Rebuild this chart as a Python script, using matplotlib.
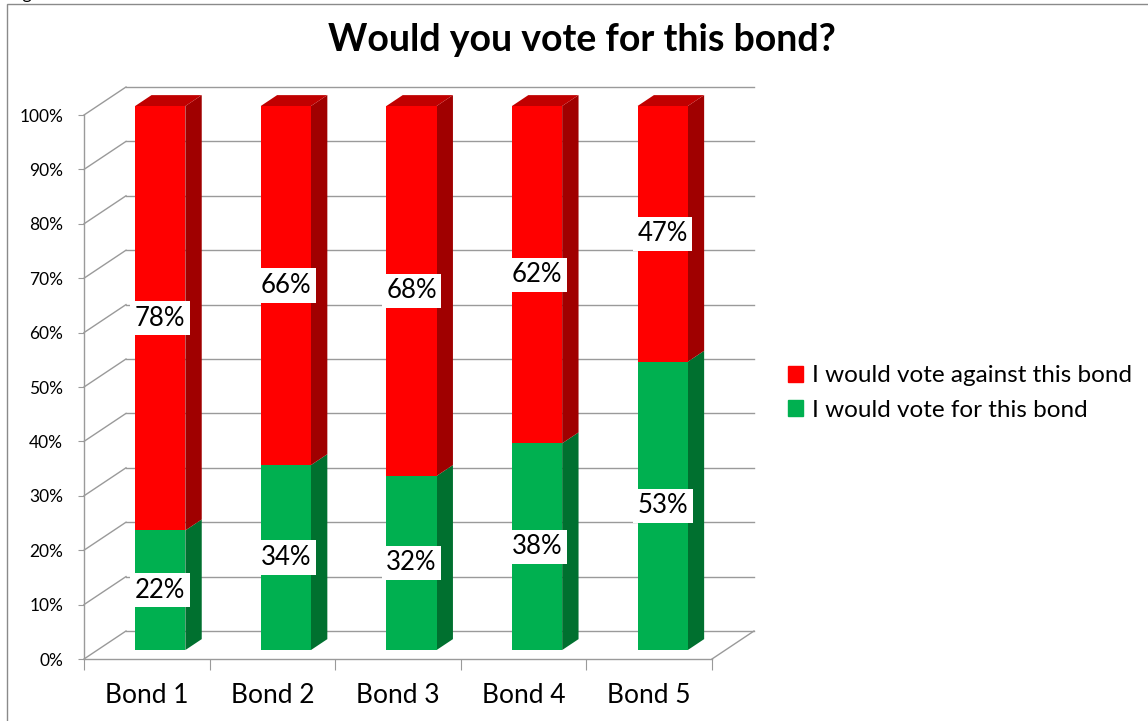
import matplotlib
matplotlib.use("Agg")
import matplotlib.pyplot as plt
from matplotlib.patches import Rectangle, Patch

plt.rcParams["font.family"] = ["Lato", "DejaVu Sans"]

# survey results per bond (percent of respondents)
bonds   = ["Bond 1", "Bond 2", "Bond 3", "Bond 4", "Bond 5"]
vote_for     = [22, 34, 32, 38, 53]
vote_against = [78, 66, 68, 62, 47]
yticks  = list(range(0, 101, 10))

GREEN, GREEN_SIDE = "#00B050", "#00702F"
RED, RED_SIDE, RED_TOP = "#FF0000", "#A00000", "#C00000"
GRID = "#9a9a9a"

W, H = 1148, 721
fig = plt.figure(figsize=(W / 100, H / 100), dpi=100)

# front plane of the pseudo-3D plot box, in pixels
left, right, y0px, y100px = 84, 712, 659, 115
ax = fig.add_axes([left / W, (H - y0px) / H, (right - left) / W, (y0px - y100px) / H])
ax.set_xlim(0, len(bonds))
ax.set_ylim(0, 100)

# depth offset of the back wall, in data units (category width / percent)
DX = 42 / ((right - left) / len(bonds))
DY = 28 / ((y0px - y100px) / 100)
Z0, Z1 = 0.32, 0.71          # bar front / back depth fraction
BW = 0.4                     # bar width in category units

# back wall gridlines and side wall diagonals
for v in yticks:
    ax.plot([DX, len(bonds) + DX], [v + DY, v + DY], color=GRID, lw=1.0,
            clip_on=False, zorder=1)
    ax.plot([0, DX], [v, v + DY], color=GRID, lw=1.0, clip_on=False, zorder=1)
# right edge of the floor
ax.plot([len(bonds), len(bonds) + DX], [0, DY], color=GRID, lw=1.0,
        clip_on=False, zorder=1)

xc = [i + 0.5 + Z0 * DX for i in range(len(bonds))]
bottom_off = Z0 * DY

# front faces
ax.bar(xc, vote_for, width=BW, bottom=bottom_off, color=GREEN, zorder=3,
       clip_on=False)
ax.bar(xc, vote_against, width=BW, bottom=[f + bottom_off for f in vote_for],
       color=RED, zorder=3, clip_on=False)

ddx, ddy = (Z1 - Z0) * DX, (Z1 - Z0) * DY
for i in range(len(bonds)):
    xr = xc[i] + BW / 2
    xl = xc[i] - BW / 2
    for lo, hi, col in [(0, vote_for[i], GREEN_SIDE),
                        (vote_for[i], vote_for[i] + vote_against[i], RED_SIDE)]:
        b, t = lo + bottom_off, hi + bottom_off
        ax.fill([xr, xr + ddx, xr + ddx, xr], [b, b + ddy, t + ddy, t],
                color=col, lw=0, zorder=2, clip_on=False)
    top = vote_for[i] + vote_against[i] + bottom_off
    ax.fill([xl, xr, xr + ddx, xl + ddx], [top, top, top + ddy, top + ddy],
            color=RED_TOP, lw=0, zorder=2, clip_on=False)

# value labels on white boxes
box = dict(boxstyle="square,pad=0.18", fc="white", ec="none")
for i in range(len(bonds)):
    ax.text(xc[i], bottom_off + vote_for[i] / 2, f"{vote_for[i]}%",
            ha="center", va="center", fontsize=18.5, bbox=box, zorder=5)
    ax.text(xc[i], bottom_off + vote_for[i] + vote_against[i] / 2,
            f"{vote_against[i]}%", ha="center", va="center", fontsize=18.5,
            bbox=box, zorder=5)

# axes styling
for s in ["top", "right"]:
    ax.spines[s].set_visible(False)
for s in ["left", "bottom"]:
    ax.spines[s].set_color(GRID)
    ax.spines[s].set_linewidth(1.0)
ax.set_yticks(yticks)
ax.set_yticklabels([f"{v}%" for v in yticks], fontsize=12.5)
ax.tick_params(axis="y", length=4, color=GRID, pad=11)
ax.set_xticks(range(len(bonds) + 1))
ax.set_xticklabels([])
ax.tick_params(axis="x", which="major", length=8, color=GRID)
ax.set_xticks([i + 0.5 for i in range(len(bonds))], minor=True)
ax.set_xticklabels(bonds, minor=True, fontsize=19)
ax.tick_params(axis="x", which="minor", length=0, pad=17)
ax.set_facecolor("none")

fig.text(582 / W, 1 - 40 / H, "Would you vote for this bond?", ha="center",
         va="center", fontsize=27, fontweight="bold")

handles = [Patch(color=RED, label="I would vote against this bond"),
           Patch(color=GREEN, label="I would vote for this bond")]
fig.legend(handles=handles, loc="center left", frameon=False,
           bbox_to_anchor=(788 / W, 1 - 393 / H), borderaxespad=0, borderpad=0,
           fontsize=17.5, handlelength=0.62, handleheight=0.62,
           handletextpad=0.37, labelspacing=0.55)

# chart border and the caption above it
fig.patches.append(Rectangle((7 / W, -0.1), 1.2, 1.1 - 4 / H, transform=fig.transFigure,
                             fill=False, ec="#8a8a8a", lw=1.0))
fig.text(8 / W, 1 + 1.5 / H, "Figure 1", ha="left", va="baseline", fontsize=13)

fig.savefig("out.png", dpi=100)
